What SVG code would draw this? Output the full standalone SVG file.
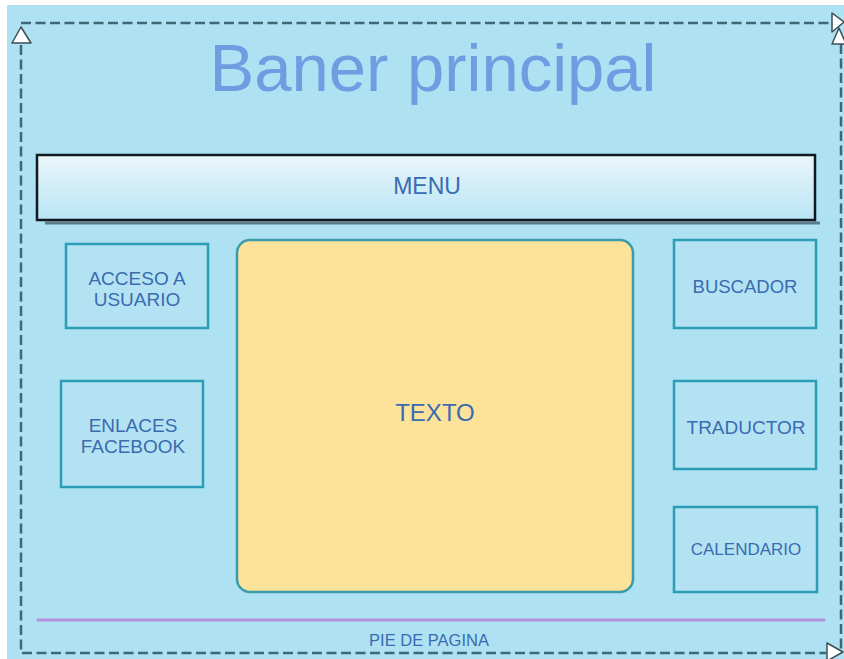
<svg xmlns="http://www.w3.org/2000/svg" width="844" height="659" viewBox="0 0 844 659">
<style>
  .lbl { font-family: "Liberation Sans", Arial, sans-serif; fill: #3A6BB0; text-anchor: middle; }
  .box { fill: #B3E3F3; stroke: #2B9DB6; stroke-width: 2.5; }
  .dash { fill: none; stroke: #3D6874; stroke-width: 2.5; stroke-dasharray: 10 4.5; }
  .tri { fill: #FFFFFF; stroke: #3A4F55; stroke-width: 1.5; stroke-linejoin: round; }
</style>
<defs>
  <linearGradient id="menuGrad" x1="0" y1="0" x2="0" y2="1">
    <stop offset="0" stop-color="#EAF6FA"/>
    <stop offset="1" stop-color="#B9E5F5"/>
  </linearGradient>
</defs>
<rect x="0" y="0" width="844" height="659" fill="#FFFFFF"/>
<rect x="7" y="5" width="837" height="654" fill="#AEE2F2"/>

<g id="connectors">
  <path class="dash" d="M21 45 L21 653 L826 653"/>
  <path class="dash" d="M21 23 L832 23"/>
  <path class="dash" d="M841 44 L841 653"/>
  <line x1="38" y1="620" x2="824" y2="620" stroke="#B58FE0" stroke-width="3" stroke-linecap="round"/>
  <polygon class="tri" points="21,27 12,43 31,43"/>
  <polygon class="tri" points="832,13 844,22 832,32"/>
  <polygon class="tri" points="839,28 832,44 846,44"/>
  <polygon class="tri" points="827,643 843,652 827,661"/>
</g>

<g id="titulo">
  <text class="lbl" x="433" y="91" font-size="67" style="fill:#6E9DE2">Baner principal</text>
</g>

<g id="menu">
  <line x1="45" y1="223" x2="820" y2="223" stroke="#5E7C87" stroke-width="3"/>
  <rect x="37" y="155" width="778" height="65" fill="url(#menuGrad)" stroke="#111820" stroke-width="2.5"/>
  <text class="lbl" x="427" y="194" font-size="23">MENU</text>
</g>

<g id="acceso">
  <rect class="box" x="66" y="244" width="142" height="84"/>
  <text class="lbl" x="137" y="285" font-size="19">ACCESO A</text>
  <text class="lbl" x="137" y="306" font-size="19">USUARIO</text>
</g>

<g id="enlaces">
  <rect class="box" x="61" y="381" width="142" height="106"/>
  <text class="lbl" x="133" y="432" font-size="19">ENLACES</text>
  <text class="lbl" x="133" y="453" font-size="19">FACEBOOK</text>
</g>

<g id="texto">
  <rect x="237" y="240" width="396" height="352" rx="13" ry="13" fill="#FDE29A" stroke="#3B9BAA" stroke-width="2.5"/>
  <text class="lbl" x="435" y="421" font-size="24">TEXTO</text>
</g>

<g id="buscador">
  <rect class="box" x="674" y="240" width="142" height="88"/>
  <text class="lbl" x="745" y="293" font-size="18.5">BUSCADOR</text>
</g>

<g id="traductor">
  <rect class="box" x="674" y="381" width="142" height="88"/>
  <text class="lbl" x="746" y="434" font-size="19">TRADUCTOR</text>
</g>

<g id="calendario">
  <rect class="box" x="674" y="507" width="143" height="85"/>
  <text class="lbl" x="746" y="555" font-size="17">CALENDARIO</text>
</g>

<g id="pie">
  <text class="lbl" x="429" y="646" font-size="16.5">PIE DE PAGINA</text>
</g>
</svg>
